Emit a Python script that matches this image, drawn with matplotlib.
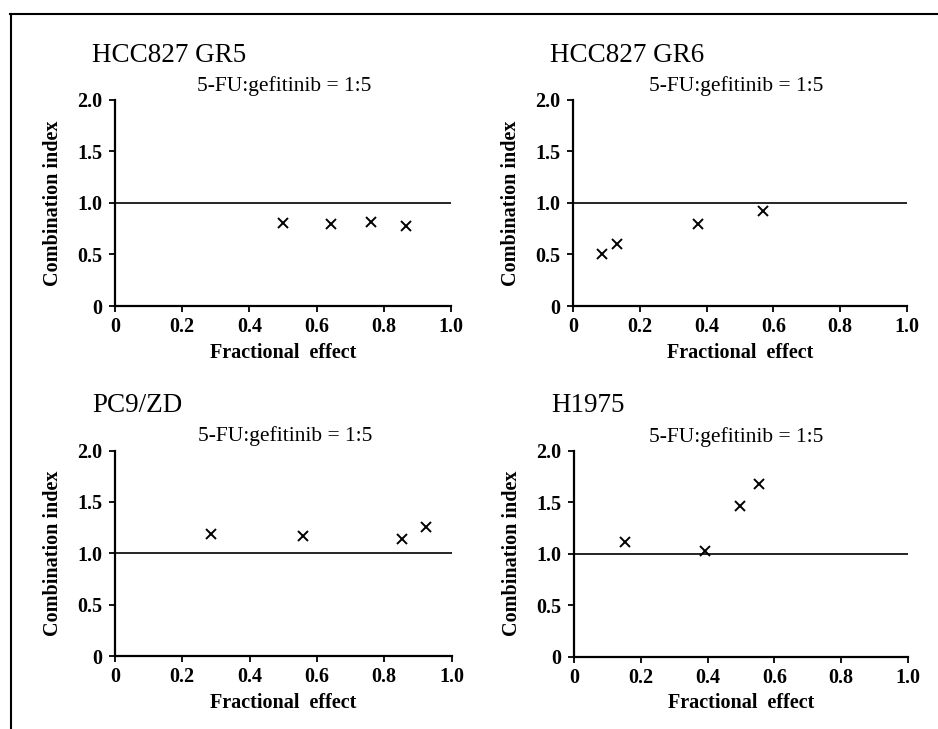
import matplotlib
matplotlib.use("Agg")
import matplotlib.pyplot as plt
from matplotlib.lines import Line2D

# ---- data ----
cell_lines = ["HCC827 GR5", "HCC827 GR6", "PC9/ZD", "H1975"]
ratio_label = "5-FU:gefitinib = 1:5"
fa_gr5 = [0.50, 0.643, 0.762, 0.866]
ci_gr5 = [0.81, 0.80, 0.82, 0.78]
fa_gr6 = [0.088, 0.133, 0.374, 0.568]
ci_gr6 = [0.50, 0.60, 0.80, 0.92]
fa_pc9 = [0.284, 0.559, 0.853, 0.924]
ci_pc9 = [1.19, 1.17, 1.14, 1.26]
fa_h1975 = [0.152, 0.393, 0.496, 0.554]
ci_h1975 = [1.11, 1.03, 1.46, 1.68]
x_ticks = [0, 0.2, 0.4, 0.6, 0.8, 1.0]
x_ticklabels = ["0", "0.2", "0.4", "0.6", "0.8", "1.0"]
y_ticks = [0, 0.5, 1.0, 1.5, 2.0]
y_ticklabels = ["0", "0.5", "1.0", "1.5", "2.0"]
xlabel = "Fractional  effect"
ylabel = "Combination index"

series = [(fa_gr5, ci_gr5), (fa_gr6, ci_gr6), (fa_pc9, ci_pc9), (fa_h1975, ci_h1975)]

W, H = 938, 729
fig = plt.figure(figsize=(W / 100, H / 100), dpi=100)
plt.rcParams['font.family'] = ['Liberation Serif', 'DejaVu Serif']

# axes boxes in pixels: left, right, top, bottom
boxes = [(115, 451, 100, 306), (573, 907, 100, 306),
         (115, 451.5, 450.5, 656), (574, 908, 451, 656.5)]
title_pos = [(92, 62), (550, 62), (92.5, 412), (551, 412.5)]
sub_centers = [284, 736, 285, 736]

def fx(px):
    return px / W

def fy(py):
    return 1 - py / H

for i, ((fa, ci), (l, r, t, b)) in enumerate(zip(series, boxes)):
    ax = fig.add_axes([fx(l), fy(b), (r - l) / W, (b - t) / H])
    ax.set_xlim(0, 1.0)
    ax.set_ylim(0, 2.0)
    for s in ["top", "right"]:
        ax.spines[s].set_visible(False)
    for s in ["left", "bottom"]:
        ax.spines[s].set_linewidth(1.6)
    ax.axhline(1.0, color="black", lw=1.2)
    ax.plot(fa, ci, linestyle="none", marker="x", color="black",
            markersize=6.5, markeredgewidth=1.4, clip_on=False)
    ax.set_xticks(x_ticks)
    ax.set_xticklabels(x_ticklabels, fontweight="bold", fontsize=14.5)
    ax.set_yticks(y_ticks)
    ax.set_yticklabels(y_ticklabels, fontweight="bold", fontsize=14.5)
    ax.tick_params(direction="out", length=4, width=1.3)
    ax.tick_params(axis="y", pad=5)
    ax.tick_params(axis="x", pad=4)
    ax.set_xlabel(xlabel, fontweight="bold", fontsize=14.5, labelpad=4)
    ax.set_ylabel(ylabel, fontweight="bold", fontsize=14.5, labelpad=10)
    tx, ty = title_pos[i]
    fig.text(fx(tx), fy(ty), cell_lines[i], fontsize=19.5, ha="left", va="baseline")
    fig.text(fx(sub_centers[i]), fy(t - 9), ratio_label, fontsize=15.5,
             ha="center", va="baseline")

# outer frame (top and left edges as in the source figure)
fig.add_artist(Line2D([fx(10), 1.0], [fy(13.5), fy(13.5)], color="black",
                      lw=1.5, transform=fig.transFigure))
fig.add_artist(Line2D([fx(11), fx(11)], [fy(13.5), 0], color="black",
                      lw=1.5, transform=fig.transFigure))

fig.savefig("out.png", dpi=100, facecolor="white")
